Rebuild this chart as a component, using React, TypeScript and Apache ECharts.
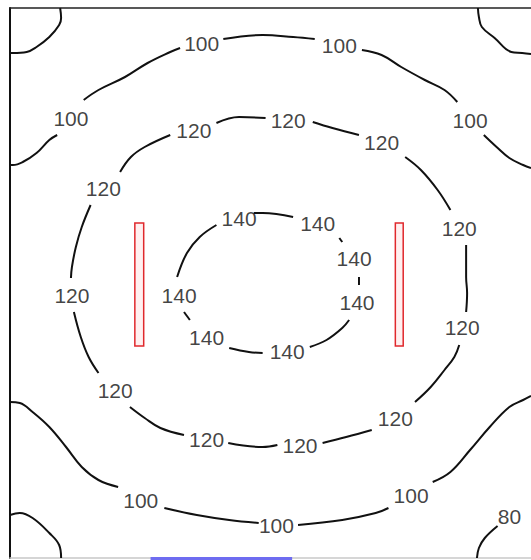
import React, { useEffect, useRef } from "react";
import * as echarts from "echarts";

// Plan coordinates in cm, origin at the top-left corner of the room (y grows downwards)
const roomWidth = 530;
const roomDepth = 550;

// Isolux lines (lux), each as a list of segments broken where a label sits
const iso80TopLeft = [[[51, 0], [52, 10], [50, 17], [40, 29], [27, 39], [17, 44], [3, 45], [0, 45]]];
const iso80TopRight = [[[476, 0], [477, 9], [480, 19], [493, 30], [510, 44], [521, 45], [530, 46]]];
const iso80BottomLeft = [[[0, 507], [10, 505], [23, 510], [40, 525], [50, 537], [52, 550]]];
const iso80BottomRight = [[[496, 518], [483, 530], [477, 540], [475, 550]]];

const iso100Top = [
  [[0, 157], [3, 157], [13, 154], [27, 145], [40, 132], [48, 127]],
  [[75, 92], [90, 82], [117, 69], [140, 55], [163, 44], [173, 40]],
  [[217, 31], [257, 27], [288, 29], [310, 31]],
  [[358, 42], [378, 47], [398, 59], [422, 72], [442, 82], [455, 94]],
  [[482, 127], [495, 139], [508, 150], [522, 157], [530, 160]],
];
const iso100Bottom = [
  [[0, 394], [10, 395], [23, 404], [40, 419], [57, 439], [73, 459], [90, 472], [110, 479]],
  [[157, 500], [190, 507], [223, 512], [253, 515]],
  [[293, 517], [338, 512], [372, 505], [385, 500]],
  [[430, 474], [448, 464], [468, 442], [488, 419], [508, 399], [522, 392], [530, 388]],
];
const iso120 = [
  [[163, 127], [137, 139], [123, 149], [112, 164]],
  [[82, 197], [73, 219], [67, 239], [63, 259], [62, 270]],
  [[65, 304], [72, 329], [80, 349], [90, 365]],
  [[122, 399], [137, 410], [153, 420], [177, 427]],
  [[222, 435], [257, 439], [272, 437]],
  [[318, 435], [342, 429], [368, 422]],
  [[412, 394], [428, 379], [442, 362], [452, 349], [457, 337]],
  [[464, 304], [465, 285], [464, 269], [464, 237]],
  [[448, 202], [435, 182], [418, 162], [402, 149]],
  [[355, 127], [328, 120], [308, 114]],
  [[260, 110], [233, 109], [210, 115]],
];
const iso140 = [
  [[210, 217], [193, 229], [180, 245], [170, 269]],
  [[177, 304], [183, 312]],
  [[223, 340], [243, 344], [257, 345]],
  [[305, 339], [322, 332], [338, 320], [345, 312]],
  [[355, 277], [355, 269]],
  [[338, 234], [335, 230]],
  [[288, 209], [257, 205], [248, 205]],
];

// Label positions [x, y, lux]
const labels80 = [[508, 508, 80]];
const labels100 = [
  [62, 110, 100], [195, 35, 100], [335, 37, 100], [468, 112, 100],
  [133, 492, 100], [271, 517, 100], [408, 487, 100],
];
const labels120 = [
  [187, 122, 120], [95, 180, 120], [63, 287, 120], [107, 382, 120], [200, 431, 120],
  [295, 437, 120], [392, 410, 120], [460, 319, 120], [457, 220, 120], [378, 134, 120], [283, 112, 120],
];
const labels140 = [
  [233, 210, 140], [172, 287, 140], [200, 329, 140], [282, 343, 140],
  [353, 294, 140], [350, 250, 140], [313, 215, 140],
];

// Luminaires [x0, y0, x1, y1] and the window on the bottom wall
const luminaires = [[127, 215, 136, 338], [392, 215, 400, 338]];
const windowBar = [[143, 549, 287, 556]];

export default function App() {
  const ref = useRef<HTMLDivElement>(null);
  useEffect(() => {
    if (!ref.current) return;
    const chart = echarts.init(ref.current, undefined, { renderer: "svg" });
    const isoSets = [iso80TopLeft, iso80TopRight, iso80BottomLeft, iso80BottomRight, iso100Top, iso100Bottom, iso120, iso140];
    const lineSeries: any[] = [];
    isoSets.forEach((set) =>
      set.forEach((seg) =>
        lineSeries.push({
          type: "line",
          data: seg,
          smooth: 0.4,
          showSymbol: false,
          symbol: "none",
          silent: true,
          clip: true,
          lineStyle: { color: "#111", width: 2 },
          z: 3,
        })
      )
    );
    const allLabels = [...labels80, ...labels100, ...labels120, ...labels140];
    const rectSeries = (data: number[][], fill: string, stroke: string, width: number) => ({
      type: "custom",
      data,
      clip: false,
      silent: true,
      z: 4,
      renderItem: (params: any, api: any) => {
        const p0 = api.coord([api.value(0), api.value(1)]);
        const p1 = api.coord([api.value(2), api.value(3)]);
        return {
          type: "rect",
          shape: { x: p0[0], y: p0[1], width: p1[0] - p0[0], height: p1[1] - p0[1] },
          style: { fill, stroke, lineWidth: width },
        };
      },
    });
    chart.setOption({
      animation: false,
      backgroundColor: "#ffffff",
      grid: { left: 10, top: 8, width: 530, height: 550 },
      xAxis: [
        {
          type: "value", min: 0, max: roomWidth, position: "bottom",
          axisLine: { show: true, onZero: false, lineStyle: { color: "#c8c8c8", width: 1.5 } },
          axisTick: { show: false }, axisLabel: { show: false }, splitLine: { show: false },
        },
        {
          type: "value", min: 0, max: roomWidth, position: "top",
          axisLine: { show: true, onZero: false, lineStyle: { color: "#222", width: 1.5 } },
          axisTick: { show: false }, axisLabel: { show: false }, splitLine: { show: false },
        },
      ],
      yAxis: {
        type: "value", min: 0, max: roomDepth, inverse: true, position: "left",
        axisLine: { show: true, onZero: false, lineStyle: { color: "#111", width: 2 } },
        axisTick: { show: false }, axisLabel: { show: false }, splitLine: { show: false },
      },
      series: [
        ...lineSeries,
        {
          type: "scatter",
          data: allLabels,
          symbolSize: 0,
          silent: true,
          z: 5,
          label: {
            show: true,
            position: "inside",
            formatter: (p: any) => String(p.value[2]),
            color: "#111",
            textBorderWidth: 0,
            textBorderColor: "transparent",
            fontSize: 21,
            fontFamily: "Liberation Sans, Arial, sans-serif",
          },
        },
        rectSeries(luminaires, "#fff0f0", "#e0282c", 1.5),
        rectSeries(windowBar, "#6e6cf0", "#6e6cf0", 0),
      ],
    });
    return () => chart.dispose();
  }, []);
  return (
    <div
      ref={ref}
      style={{ position: "absolute", left: 0, top: 0, width: 531, height: 560, background: "#fff" }}
    />
  );
}
